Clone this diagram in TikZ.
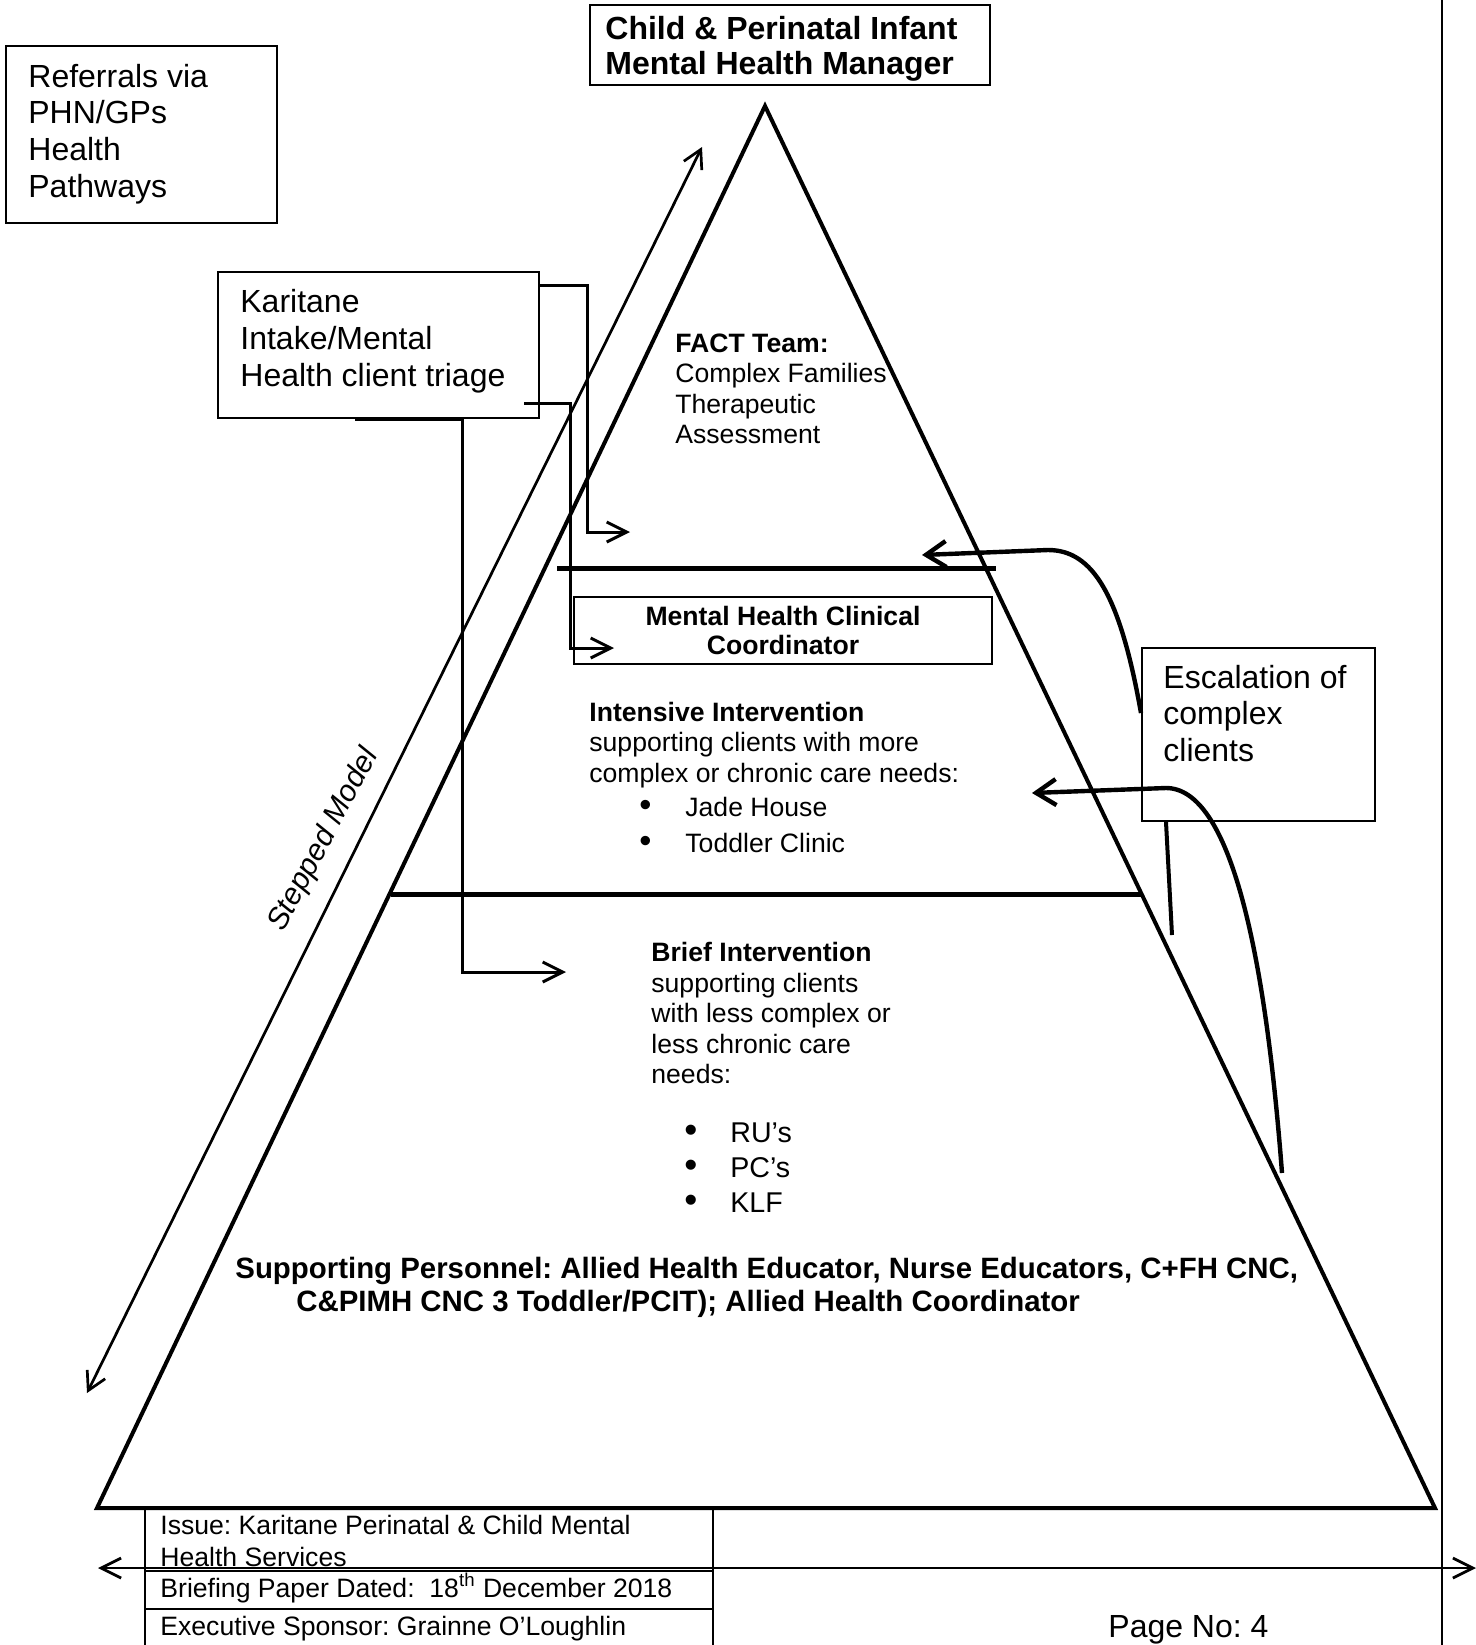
\documentclass[tikz,border=0pt]{standalone}
\usepackage{fontspec}
\usepackage{graphicx}
\setmainfont{Liberation Sans}
\usetikzlibrary{arrows.meta,calc,positioning}
\frenchspacing

\newcommand{\listbullet}{\makebox[23pt][l]{\scalebox{1.3}{\textbullet}}}

\tikzset{
  box/.style={draw, line width=1pt, inner sep=0pt},
  txt/.style={anchor=west, inner sep=0pt, align=left},
  bigtext/.style={font=\fontsize{16}{18.4}\selectfont},
  headtext/.style={font=\fontsize{16}{17.5}\selectfont\bfseries},
  smalltext/.style={font=\fontsize{13.3}{15.25}\selectfont},
  coordtext/.style={font=\fontsize{13.3}{14.5}\selectfont\bfseries},
  listtext/.style={font=\fontsize{13.3}{18}\selectfont},
  bullettext/.style={font=\fontsize{14.3}{17.5}\selectfont},
  supporttext/.style={font=\fontsize{14.7}{16.5}\selectfont\bfseries},
  foottext/.style={font=\fontsize{13.3}{16}\selectfont},
  conn/.style={line width=1.5pt, -{Straight Barb[length=10pt,width=10pt]}},
  esc/.style={line width=2.2pt, -{Straight Barb[length=10pt,width=13pt]}}
}

\begin{document}
\begin{tikzpicture}[x=0.5pt,y=-0.5pt]
\useasboundingbox (0,0) rectangle (1476,1645);

% boxes
\node[box, minimum width=200pt, minimum height=40pt] (manager) at (790,45) {};
\node[txt, headtext] (managertext) at (605,48.5) {Child \& Perinatal Infant\\Mental Health Manager};
\node[box, minimum width=135.5pt, minimum height=88.5pt] (referrals) at (141.5,134.5) {};
\node[txt, bigtext] (referralstext) at (28,134) {Referrals via\\PHN/GPs\\Health\\Pathways};
\node[box, minimum width=160.5pt, minimum height=73pt] (intake) at (378.5,345) {};
\node[txt, bigtext] (intaketext) at (240,341.5) {Karitane\\Intake/Mental\\Health client triage};
\node[box, minimum width=116.5pt, minimum height=86.5pt] (escal) at (1258.5,734.5) {};
\node[txt, bigtext] (escaltext) at (1163,713.5) {Escalation of\\complex\\clients};
\node[box, coordtext, minimum width=209pt, minimum height=33.5pt, align=center] (mhcc) at (783,630.5) {Mental Health Clinical\\Coordinator};

% pyramid
\draw[line width=2pt, line join=miter] (765,106) -- (97,1508) -- (1435,1508) -- cycle;
\draw[line width=2.5pt] (557,568) -- (996,568);
\draw[line width=2.5pt] (391,894) -- (1141,894);

\node[txt, smalltext] (fact) at (675,389) {\textbf{FACT Team:}\\Complex Families\\Therapeutic\\Assessment};
\node[txt, smalltext] (intensive) at (589,745) {\textbf{Intensive Intervention}\\supporting clients with more\\complex or chronic care needs:};
\node[txt, listtext] (intensivelist) at (639,824.5) {\listbullet Jade House\\\listbullet Toddler Clinic};
\node[txt, smalltext] (brief) at (651,1013) {\textbf{Brief Intervention}\\supporting clients\\with less complex or\\less chronic care\\needs:};
\node[txt, bullettext] (brieflist) at (684,1167.5) {\listbullet RU’s\\\listbullet PC’s\\\listbullet KLF};
\node[txt, supporttext] (support) at (235,1287.5) {Supporting Personnel: Allied Health Educator, Nurse Educators, C+FH CNC,\\\hspace*{30.5pt}C\&PIMH CNC 3 Toddler/PCIT); Allied Health Coordinator};

% stepped model
\coordinate (steptop) at (702,147);
\coordinate (stepbot) at (87,1393);
\draw[line width=1.35pt, {Straight Barb[length=9pt,width=10pt]}-{Straight Barb[length=9pt,width=10pt]}] (stepbot) -- (steptop);
\node[font=\fontsize{15}{18}\selectfont\itshape, rotate=62, inner sep=0pt] (stepped) at (324,840) {Stepped Model};

% intake connectors
\coordinate (factin) at (630,532);
\coordinate (mhccin) at (614,648);
\coordinate (briefin) at (566,972);
\draw[conn] ([yshift=-7pt]intake.north east) -- ++(47,0) |- (factin);
\draw[conn] ([xshift=-8pt,yshift=8pt]intake.south east) -- ++(46,0) |- (mhccin);
\draw[conn] ([xshift=-11.75pt]intake.south) -- ++(107,0) |- (briefin);

% escalation
\coordinate (factarrow) at (922,555);
\coordinate (intarrow) at (1032,793);
\coordinate (escbot) at (1282,1173);
\coordinate (escstub) at (1172,935);
\draw[esc] ([yshift=10.75pt]escal.west) .. controls (1120,595) and (1093,550) .. (1048,550) -- (factarrow);
\draw[esc] (escbot) .. controls (1265,950) and (1230,788) .. (1166,788) -- (intarrow);
\draw[line width=2pt] ([xshift=-46.25pt]escal.south) -- (escstub);

% page frame and footer
\draw[line width=1.4pt] (1442,0) -- (1442,1645);
\coordinate (leftend) at (98,1568);
\coordinate (rightend) at (1476,1568);
\draw[line width=1.4pt, {Straight Barb[length=10pt,width=10pt]}-{Straight Barb[length=10pt,width=10pt]}] (leftend) -- (rightend);
\draw[line width=1pt] (145,1508) -- (145,1645) (713,1508) -- (713,1645)
  (145,1571) -- (713,1571) (145,1609) -- (713,1609);
\node[txt, foottext] (issue) at (160,1541) {Issue: Karitane Perinatal \& Child Mental\\Health Services};
\node[txt, foottext] (briefing) at (160,1588) {Briefing Paper Dated:\ \ 18\textsuperscript{th} December 2018};
\node[txt, foottext] (sponsor) at (160,1629) {Executive Sponsor: Grainne O’Loughlin};
\node[txt, bigtext] (pageno) at (1108,1630) {Page No: 4};
\end{tikzpicture}
\end{document}
